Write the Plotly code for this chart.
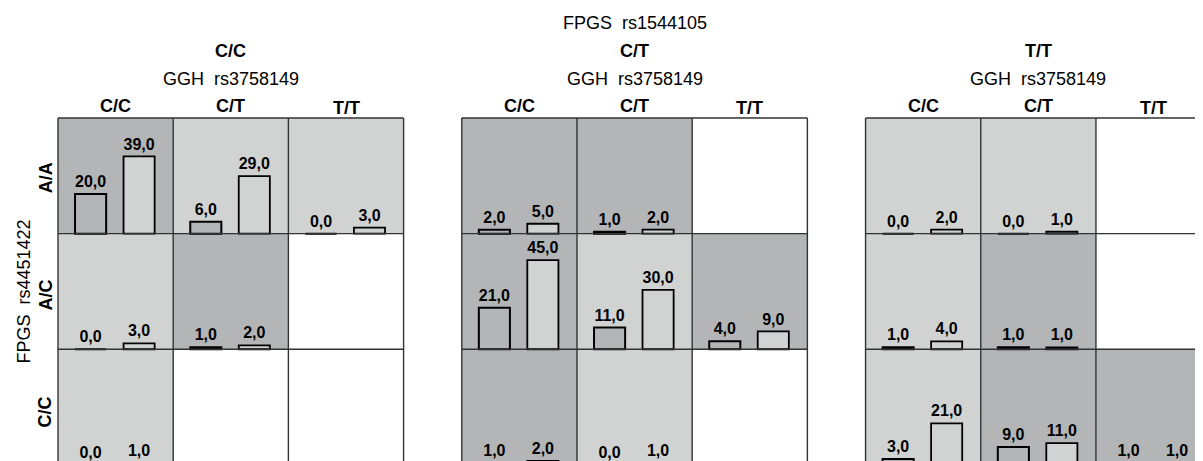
import plotly.graph_objects as go

# ---- data -------------------------------------------------------------
panels_fpgs_rs1544105 = ["C/C", "C/T", "T/T"]
cols_ggh_rs3758149 = ["C/C", "C/T", "T/T"]
rows_fpgs_rs4451422 = ["A/A", "A/C", "C/C"]

# row-major: rows A/A, A/C, C/C ; columns C/C, C/T, T/T  (None = empty cell)
bar1_CC = [20, 6, 0, 0, 1, None, 0, None, None]
bar2_CC = [39, 29, 3, 3, 2, None, 1, None, None]
bar1_CT = [2, 1, None, 21, 11, 4, 1, 0, None]
bar2_CT = [5, 2, None, 45, 30, 9, 2, 1, None]
bar1_TT = [0, 0, None, 1, 1, None, 3, 9, 1]
bar2_TT = [2, 1, None, 4, 1, None, 21, 11, 1]

# cell shading level (0 = none, 1 = light, 2 = dark)
shade_CC = [2, 1, 1, 1, 2, 0, 1, 0, 0]
shade_CT = [2, 2, 0, 2, 1, 2, 2, 1, 0]
shade_TT = [1, 1, 0, 1, 2, 0, 1, 2, 2]

bar1_sets = [bar1_CC, bar1_CT, bar1_TT]
bar2_sets = [bar2_CC, bar2_CT, bar2_TT]
shade_sets = [shade_CC, shade_CT, shade_TT]

# ---- layout constants -------------------------------------------------
PAGE_OFF = 8            # default page body margin
W, HGT = 1203 - PAGE_OFF, 461 - PAGE_OFF
PXU_X = 115.2          # px per cell (x units)
PXU_Y = 1.98           # px per count
H = 58.4               # counts per row band
PANEL_PITCH = 3.505    # cells between panel starts
LEFT_PX, TOP_PX = 58 - PAGE_OFF, 118 - PAGE_OFF   # grid origin inside figure
PLOT_L, PLOT_T = LEFT_PX - 4, TOP_PX - 4          # plot area origin

DARK = "#b3b5b6"
LIGHT = "#d1d3d2"
SHADES = {0: "rgba(0,0,0,0)", 1: LIGHT, 2: DARK}
LINE = "#333333"
BAR_W = 0.27
OFF1, OFF2 = 0.283, 0.704

def fmt(v):
    return f"{v:.1f}".replace(".", ",")

fig = go.Figure()
shapes = []
annotations = []

b1x, b1b, b1y = [], [], []
b2x, b2b, b2y = [], [], []
tx, ty, tt = [], [], []

for p, pname in enumerate(panels_fpgs_rs1544105):
    x0 = p * PANEL_PITCH
    for r in range(3):
        base = (2 - r) * H
        for c in range(3):
            i = r * 3 + c
            lvl = shade_sets[p][i]
            if lvl:
                shapes.append(dict(type="rect", xref="x", yref="y", layer="below",
                                   x0=x0 + c, x1=x0 + c + 1, y0=base, y1=base + H,
                                   fillcolor=SHADES[lvl], line=dict(width=0)))
            v1 = bar1_sets[p][i]
            v2 = bar2_sets[p][i]
            if v1 is not None:
                b1x.append(x0 + c + OFF1); b1b.append(base); b1y.append(v1)
                tx.append(x0 + c + OFF1); ty.append(base + v1); tt.append(f"<b>{fmt(v1)}</b>")
            if v2 is not None:
                b2x.append(x0 + c + OFF2); b2b.append(base); b2y.append(v2)
                tx.append(x0 + c + OFF2); ty.append(base + v2); tt.append(f"<b>{fmt(v2)}</b>")
    # grid lines
    for c in range(4):
        shapes.append(dict(type="line", xref="x", yref="y", layer="above",
                           x0=x0 + c, x1=x0 + c, y0=0, y1=3 * H,
                           line=dict(color=LINE, width=1.4)))
    for r in range(4):
        shapes.append(dict(type="line", xref="x", yref="y", layer="above",
                           x0=x0, x1=x0 + 3, y0=r * H, y1=r * H,
                           line=dict(color=LINE, width=1.4)))
    # headers
    annotations.append(dict(xref="x", yref="y", x=x0 + 1.5, y=3 * H, yshift=67,
                            text=f"<b>{pname}</b>", showarrow=False,
                            font=dict(size=18), yanchor="middle"))
    annotations.append(dict(xref="x", yref="y", x=x0 + 1.5, y=3 * H, yshift=39,
                            text="GGH  rs3758149", showarrow=False,
                            font=dict(size=18), yanchor="middle"))
    for c, cname in enumerate(cols_ggh_rs3758149):
        annotations.append(dict(xref="x", yref="y", x=x0 + c + 0.5, y=3 * H,
                                yshift=12.5 - (2 if c == 2 else 0),
                                text=f"<b>{cname}</b>", showarrow=False,
                                font=dict(size=18), yanchor="middle"))

annotations.append(dict(xref="x", yref="y", x=PANEL_PITCH + 1.5, y=3 * H, yshift=95,
                        text="FPGS  rs1544105", showarrow=False,
                        font=dict(size=18), yanchor="middle"))
for r, rname in enumerate(rows_fpgs_rs4451422):
    annotations.append(dict(xref="x", yref="y", x=0, y=(2 - r) * H + H / 2,
                            xshift=-12.5, yshift=-2 - 1.5 * r,
                            text=f"<b>{rname}</b>", showarrow=False, textangle=-90,
                            font=dict(size=18), xanchor="center", yanchor="middle"))
annotations.append(dict(xref="x", yref="y", x=0, y=1.5 * H, xshift=-34,
                        text="FPGS  rs4451422", showarrow=False, textangle=-90,
                        font=dict(size=18), xanchor="center", yanchor="middle"))

fig.add_trace(go.Bar(x=b1x, y=b1y, base=b1b, width=BAR_W,
                     marker=dict(color=DARK, line=dict(color="black", width=2)),
                     hoverinfo="skip", showlegend=False))
fig.add_trace(go.Bar(x=b2x, y=b2y, base=b2b, width=BAR_W,
                     marker=dict(color=LIGHT, line=dict(color="black", width=1.8)),
                     hoverinfo="skip", showlegend=False))
fig.add_trace(go.Scatter(x=tx, y=ty, text=tt, mode="markers+text", textposition="top center",
                         marker=dict(size=3, opacity=0),
                         textfont=dict(size=16, color="black"),
                         hoverinfo="skip", showlegend=False))

x_lo = -(LEFT_PX - PLOT_L) / PXU_X
x_hi = (W - LEFT_PX) / PXU_X
y_hi = 3 * H + (TOP_PX - PLOT_T) / PXU_Y
y_lo = 3 * H - (HGT - TOP_PX) / PXU_Y

fig.update_layout(
    width=W, height=HGT,
    margin=dict(l=PLOT_L, r=0, t=PLOT_T, b=0, pad=0),
    paper_bgcolor="white", plot_bgcolor="white",
    barmode="overlay",
    font=dict(family="Liberation Sans, Arial, sans-serif", color="black"),
    xaxis=dict(range=[x_lo, x_hi], visible=False, fixedrange=True),
    yaxis=dict(range=[y_lo, y_hi], visible=False, fixedrange=True),
    shapes=shapes, annotations=annotations,
)

fig.write_html("out.html")
